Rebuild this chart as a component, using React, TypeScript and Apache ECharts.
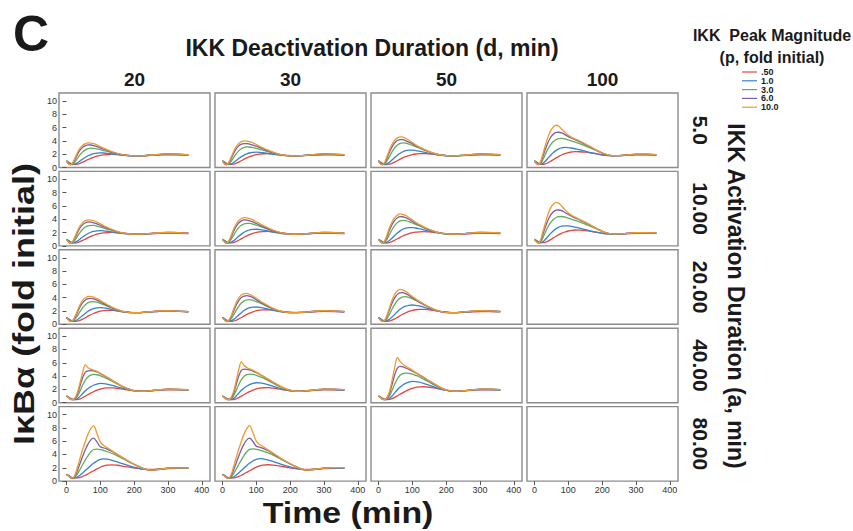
import React, { useEffect, useRef } from "react";
import * as echarts from "echarts";

// Sample times (min) shared by every simulated trajectory
const TIME = [0, 6, 12, 18, 24, 32, 40, 48, 56, 64, 72, 80, 90, 100, 110, 120, 135, 150, 170, 190, 210, 230, 250, 275, 300, 330, 360];

// IKK peak magnitude levels (legend) and panel headers
const P_LEVELS = [".50", "1.0", "3.0", "6.0", "10.0"];
const P_COLORS = ["#e3463e", "#3a80cf", "#5fae5b", "#7a5da8", "#f19a2c"];
const D_COLS = ["20", "30", "50", "100"];
const A_ROWS = ["5.0", "10.00", "20.00", "40.00", "80.00"];
const X_TICKS = [0, 100, 200, 300, 400];
const Y_TICKS = [0, 2, 4, 6, 8, 10];

// IκBα (fold initial); each panel lists p = .50, 1.0, 3.0, 6.0, 10.0
const a5_d20 = [
  [1.0, 0.82, 0.62, 0.5, 0.45, 0.5, 0.62, 0.8, 1.0, 1.2, 1.38, 1.53, 1.7, 1.82, 1.9, 1.95, 1.98, 1.96, 1.88, 1.8, 1.76, 1.77, 1.82, 1.88, 1.92, 1.9, 1.85],
  [1.0, 0.75, 0.52, 0.45, 0.5, 0.7, 0.98, 1.28, 1.55, 1.77, 1.95, 2.07, 2.17, 2.2, 2.18, 2.13, 2.03, 1.93, 1.83, 1.77, 1.76, 1.79, 1.85, 1.92, 1.96, 1.94, 1.88],
  [1.0, 0.65, 0.45, 0.5, 0.8, 1.35, 1.9, 2.35, 2.65, 2.83, 2.9, 2.88, 2.8, 2.68, 2.55, 2.43, 2.22, 2.03, 1.86, 1.77, 1.76, 1.8, 1.87, 1.95, 2.0, 1.97, 1.9],
  [1.0, 0.6, 0.42, 0.6, 1.1, 1.9, 2.6, 3.05, 3.3, 3.4, 3.38, 3.3, 3.15, 2.95, 2.75, 2.57, 2.3, 2.08, 1.88, 1.77, 1.76, 1.8, 1.88, 1.97, 2.03, 1.99, 1.91],
  [1.0, 0.55, 0.4, 0.7, 1.3, 2.2, 2.9, 3.35, 3.6, 3.7, 3.68, 3.58, 3.4, 3.15, 2.9, 2.68, 2.38, 2.12, 1.9, 1.78, 1.76, 1.8, 1.88, 1.98, 2.05, 2.0, 1.92],
];
const a5_d30 = [
  [1.0, 0.82, 0.62, 0.5, 0.45, 0.5, 0.63, 0.82, 1.03, 1.25, 1.45, 1.62, 1.8, 1.93, 2.02, 2.07, 2.08, 2.03, 1.93, 1.83, 1.77, 1.77, 1.81, 1.87, 1.91, 1.9, 1.85],
  [1.0, 0.75, 0.52, 0.45, 0.5, 0.72, 1.02, 1.35, 1.63, 1.87, 2.05, 2.18, 2.27, 2.3, 2.28, 2.22, 2.1, 1.98, 1.85, 1.78, 1.75, 1.78, 1.84, 1.91, 1.96, 1.94, 1.88],
  [1.0, 0.65, 0.45, 0.5, 0.82, 1.4, 2.0, 2.5, 2.83, 3.02, 3.1, 3.08, 3.0, 2.88, 2.74, 2.6, 2.37, 2.15, 1.92, 1.79, 1.75, 1.78, 1.85, 1.94, 2.0, 1.97, 1.9],
  [1.0, 0.6, 0.42, 0.6, 1.15, 2.0, 2.75, 3.25, 3.52, 3.6, 3.6, 3.52, 3.38, 3.2, 3.0, 2.8, 2.5, 2.23, 1.95, 1.79, 1.75, 1.78, 1.86, 1.96, 2.03, 2.0, 1.92],
  [1.0, 0.55, 0.4, 0.7, 1.35, 2.3, 3.1, 3.6, 3.9, 4.0, 3.98, 3.88, 3.7, 3.45, 3.2, 2.95, 2.6, 2.3, 1.98, 1.8, 1.75, 1.78, 1.86, 1.97, 2.05, 2.01, 1.93],
];
const a5_d50 = [
  [1.0, 0.82, 0.62, 0.5, 0.45, 0.5, 0.63, 0.82, 1.03, 1.25, 1.45, 1.62, 1.8, 1.94, 2.03, 2.08, 2.1, 2.05, 1.95, 1.84, 1.77, 1.76, 1.8, 1.86, 1.91, 1.9, 1.86],
  [1.0, 0.75, 0.52, 0.45, 0.52, 0.78, 1.12, 1.5, 1.85, 2.15, 2.37, 2.52, 2.6, 2.6, 2.55, 2.46, 2.3, 2.14, 1.95, 1.82, 1.76, 1.76, 1.82, 1.9, 1.96, 1.95, 1.89],
  [1.0, 0.65, 0.45, 0.52, 0.9, 1.6, 2.35, 2.95, 3.38, 3.62, 3.7, 3.66, 3.52, 3.33, 3.13, 2.93, 2.62, 2.33, 2.02, 1.84, 1.76, 1.76, 1.83, 1.93, 2.0, 1.98, 1.91],
  [1.0, 0.6, 0.42, 0.62, 1.25, 2.25, 3.1, 3.7, 4.05, 4.2, 4.18, 4.05, 3.82, 3.55, 3.27, 3.02, 2.68, 2.37, 2.04, 1.84, 1.76, 1.76, 1.84, 1.95, 2.03, 2.0, 1.93],
  [1.0, 0.55, 0.4, 0.75, 1.5, 2.6, 3.5, 4.1, 4.45, 4.6, 4.55, 4.4, 4.1, 3.75, 3.4, 3.1, 2.72, 2.4, 2.06, 1.85, 1.76, 1.76, 1.84, 1.96, 2.05, 2.02, 1.94],
];
const a5_d100 = [
  [1.0, 0.82, 0.63, 0.5, 0.47, 0.55, 0.72, 0.95, 1.2, 1.45, 1.68, 1.88, 2.08, 2.23, 2.33, 2.38, 2.37, 2.3, 2.15, 1.98, 1.84, 1.77, 1.78, 1.84, 1.9, 1.91, 1.88],
  [1.0, 0.75, 0.53, 0.47, 0.6, 0.95, 1.4, 1.85, 2.25, 2.57, 2.8, 2.95, 3.02, 3.0, 2.93, 2.82, 2.65, 2.45, 2.2, 1.98, 1.82, 1.76, 1.78, 1.86, 1.93, 1.94, 1.9],
  [1.0, 0.65, 0.47, 0.6, 1.1, 1.95, 2.8, 3.45, 3.9, 4.2, 4.35, 4.37, 4.3, 4.15, 3.98, 3.8, 3.55, 3.25, 2.85, 2.38, 1.97, 1.79, 1.79, 1.88, 1.97, 1.97, 1.92],
  [1.0, 0.6, 0.45, 0.75, 1.55, 2.7, 3.75, 4.55, 5.05, 5.28, 5.3, 5.2, 4.95, 4.65, 4.4, 4.17, 3.85, 3.48, 2.97, 2.43, 1.99, 1.8, 1.8, 1.9, 1.99, 1.99, 1.94],
  [1.0, 0.55, 0.45, 0.9, 1.9, 3.3, 4.6, 5.55, 6.1, 6.35, 6.2, 5.8, 5.3, 4.85, 4.55, 4.3, 3.95, 3.55, 3.0, 2.45, 2.0, 1.8, 1.8, 1.9, 2.0, 2.0, 1.95],
];
const a10_d20 = [
  [1.0, 0.83, 0.63, 0.5, 0.45, 0.5, 0.63, 0.82, 1.03, 1.24, 1.43, 1.58, 1.76, 1.88, 1.96, 2.01, 2.04, 2.0, 1.91, 1.82, 1.76, 1.77, 1.82, 1.88, 1.92, 1.9, 1.85],
  [1.0, 0.76, 0.53, 0.45, 0.5, 0.72, 1.02, 1.35, 1.63, 1.87, 2.05, 2.17, 2.26, 2.3, 2.27, 2.2, 2.08, 1.96, 1.84, 1.77, 1.76, 1.79, 1.85, 1.92, 1.96, 1.94, 1.88],
  [1.0, 0.66, 0.45, 0.5, 0.8, 1.4, 2.0, 2.5, 2.83, 3.02, 3.1, 3.07, 2.98, 2.84, 2.69, 2.54, 2.3, 2.08, 1.88, 1.78, 1.76, 1.8, 1.87, 1.95, 2.0, 1.97, 1.9],
  [1.0, 0.62, 0.42, 0.58, 1.08, 1.95, 2.7, 3.2, 3.48, 3.6, 3.58, 3.48, 3.32, 3.1, 2.88, 2.68, 2.38, 2.12, 1.9, 1.78, 1.76, 1.8, 1.88, 1.97, 2.03, 1.99, 1.91],
  [1.0, 0.6, 0.4, 0.65, 1.25, 2.2, 3.0, 3.5, 3.8, 3.9, 3.88, 3.78, 3.58, 3.32, 3.05, 2.8, 2.47, 2.18, 1.93, 1.79, 1.76, 1.8, 1.88, 1.98, 2.05, 2.0, 1.92],
];
const a10_d30 = [
  [1.0, 0.83, 0.63, 0.5, 0.45, 0.51, 0.65, 0.85, 1.07, 1.3, 1.51, 1.69, 1.88, 2.02, 2.1, 2.15, 2.17, 2.11, 1.99, 1.86, 1.78, 1.77, 1.81, 1.87, 1.91, 1.9, 1.86],
  [1.0, 0.76, 0.53, 0.45, 0.52, 0.76, 1.08, 1.44, 1.77, 2.05, 2.26, 2.4, 2.48, 2.5, 2.46, 2.38, 2.23, 2.07, 1.9, 1.79, 1.75, 1.77, 1.83, 1.91, 1.96, 1.94, 1.88],
  [1.0, 0.66, 0.45, 0.52, 0.86, 1.5, 2.2, 2.75, 3.1, 3.32, 3.4, 3.38, 3.28, 3.12, 2.95, 2.78, 2.5, 2.24, 1.96, 1.8, 1.75, 1.78, 1.85, 1.94, 2.0, 1.97, 1.9],
  [1.0, 0.62, 0.42, 0.6, 1.15, 2.1, 2.9, 3.45, 3.77, 3.9, 3.88, 3.78, 3.6, 3.37, 3.13, 2.9, 2.57, 2.28, 1.98, 1.8, 1.75, 1.78, 1.86, 1.96, 2.03, 2.0, 1.92],
  [1.0, 0.6, 0.4, 0.68, 1.35, 2.4, 3.25, 3.8, 4.12, 4.25, 4.22, 4.1, 3.9, 3.63, 3.35, 3.08, 2.7, 2.37, 2.02, 1.82, 1.75, 1.78, 1.86, 1.97, 2.05, 2.01, 1.93],
];
const a10_d50 = [
  [1.0, 0.83, 0.63, 0.5, 0.45, 0.51, 0.65, 0.85, 1.07, 1.29, 1.49, 1.66, 1.85, 1.98, 2.07, 2.12, 2.15, 2.1, 1.99, 1.87, 1.79, 1.77, 1.8, 1.86, 1.91, 1.9, 1.86],
  [1.0, 0.76, 0.53, 0.46, 0.54, 0.8, 1.16, 1.56, 1.94, 2.26, 2.5, 2.66, 2.75, 2.75, 2.69, 2.59, 2.42, 2.24, 2.02, 1.86, 1.77, 1.76, 1.82, 1.9, 1.96, 1.95, 1.89],
  [1.0, 0.66, 0.46, 0.53, 0.92, 1.65, 2.43, 3.05, 3.5, 3.76, 3.85, 3.81, 3.66, 3.46, 3.25, 3.03, 2.7, 2.39, 2.06, 1.86, 1.77, 1.76, 1.83, 1.93, 2.0, 1.98, 1.91],
  [1.0, 0.62, 0.43, 0.62, 1.27, 2.3, 3.2, 3.83, 4.22, 4.4, 4.38, 4.24, 4.0, 3.7, 3.4, 3.13, 2.77, 2.45, 2.09, 1.87, 1.77, 1.76, 1.84, 1.95, 2.03, 2.0, 1.93],
  [1.0, 0.6, 0.42, 0.72, 1.5, 2.65, 3.6, 4.25, 4.63, 4.8, 4.75, 4.58, 4.28, 3.92, 3.56, 3.24, 2.84, 2.5, 2.12, 1.88, 1.77, 1.76, 1.84, 1.96, 2.05, 2.02, 1.94],
];
const a10_d100 = [
  [1.0, 0.83, 0.64, 0.51, 0.48, 0.56, 0.73, 0.96, 1.21, 1.46, 1.69, 1.89, 2.09, 2.24, 2.34, 2.39, 2.38, 2.31, 2.16, 1.99, 1.85, 1.78, 1.78, 1.84, 1.9, 1.91, 1.88],
  [1.0, 0.76, 0.54, 0.47, 0.6, 0.96, 1.42, 1.88, 2.28, 2.6, 2.82, 2.96, 3.02, 3.0, 2.93, 2.82, 2.65, 2.45, 2.2, 1.98, 1.82, 1.76, 1.78, 1.86, 1.93, 1.94, 1.9],
  [1.0, 0.66, 0.47, 0.6, 1.13, 2.0, 2.87, 3.53, 3.98, 4.27, 4.4, 4.42, 4.34, 4.18, 4.0, 3.82, 3.57, 3.27, 2.87, 2.4, 1.98, 1.79, 1.79, 1.88, 1.97, 1.97, 1.92],
  [1.0, 0.62, 0.45, 0.75, 1.6, 2.8, 3.85, 4.65, 5.15, 5.38, 5.4, 5.3, 5.03, 4.72, 4.45, 4.2, 3.88, 3.5, 2.99, 2.45, 2.0, 1.8, 1.8, 1.9, 1.99, 1.99, 1.94],
  [1.0, 0.58, 0.45, 0.9, 1.95, 3.4, 4.75, 5.75, 6.3, 6.55, 6.4, 6.0, 5.45, 4.95, 4.6, 4.33, 3.97, 3.57, 3.02, 2.47, 2.01, 1.8, 1.8, 1.9, 2.0, 2.0, 1.95],
];
const a20_d20 = [
  [1.0, 0.84, 0.65, 0.52, 0.46, 0.48, 0.6, 0.78, 1.0, 1.23, 1.44, 1.62, 1.82, 1.97, 2.06, 2.1, 2.1, 2.02, 1.89, 1.8, 1.76, 1.79, 1.86, 1.93, 1.96, 1.93, 1.87],
  [1.0, 0.78, 0.55, 0.46, 0.5, 0.68, 0.98, 1.33, 1.67, 1.97, 2.2, 2.36, 2.47, 2.5, 2.46, 2.38, 2.21, 2.03, 1.85, 1.77, 1.76, 1.8, 1.88, 1.96, 1.99, 1.95, 1.89],
  [1.0, 0.7, 0.47, 0.46, 0.7, 1.25, 1.9, 2.5, 2.95, 3.25, 3.38, 3.4, 3.32, 3.15, 2.95, 2.74, 2.42, 2.13, 1.87, 1.77, 1.76, 1.81, 1.9, 1.99, 2.02, 1.97, 1.9],
  [1.0, 0.67, 0.44, 0.5, 0.92, 1.75, 2.6, 3.25, 3.66, 3.86, 3.9, 3.83, 3.64, 3.38, 3.1, 2.85, 2.49, 2.17, 1.88, 1.77, 1.76, 1.82, 1.91, 2.01, 2.03, 1.98, 1.91],
  [1.0, 0.65, 0.42, 0.55, 1.05, 2.0, 2.95, 3.6, 4.0, 4.18, 4.2, 4.1, 3.88, 3.58, 3.27, 2.98, 2.58, 2.23, 1.9, 1.77, 1.76, 1.82, 1.92, 2.02, 2.04, 1.98, 1.92],
];
const a20_d30 = [
  [1.0, 0.84, 0.65, 0.52, 0.46, 0.49, 0.61, 0.8, 1.02, 1.26, 1.48, 1.67, 1.88, 2.04, 2.13, 2.18, 2.19, 2.12, 1.98, 1.85, 1.78, 1.77, 1.81, 1.88, 1.93, 1.92, 1.87],
  [1.0, 0.78, 0.55, 0.46, 0.51, 0.7, 1.02, 1.39, 1.75, 2.07, 2.32, 2.49, 2.59, 2.6, 2.55, 2.46, 2.29, 2.11, 1.9, 1.78, 1.75, 1.78, 1.85, 1.94, 1.98, 1.95, 1.89],
  [1.0, 0.7, 0.47, 0.47, 0.73, 1.33, 2.05, 2.7, 3.2, 3.53, 3.68, 3.7, 3.6, 3.42, 3.2, 2.98, 2.62, 2.3, 1.95, 1.79, 1.75, 1.78, 1.87, 1.97, 2.02, 1.98, 1.91],
  [1.0, 0.67, 0.44, 0.52, 0.97, 1.88, 2.82, 3.55, 4.02, 4.25, 4.3, 4.22, 4.0, 3.7, 3.39, 3.1, 2.7, 2.34, 1.98, 1.79, 1.75, 1.79, 1.88, 1.98, 2.04, 1.99, 1.92],
  [1.0, 0.65, 0.42, 0.57, 1.1, 2.15, 3.2, 3.95, 4.4, 4.62, 4.65, 4.52, 4.26, 3.92, 3.57, 3.24, 2.8, 2.41, 2.0, 1.8, 1.75, 1.79, 1.88, 1.99, 2.05, 2.0, 1.93],
];
const a20_d50 = [
  [1.0, 0.84, 0.65, 0.52, 0.46, 0.49, 0.62, 0.81, 1.04, 1.28, 1.51, 1.71, 1.93, 2.09, 2.19, 2.24, 2.25, 2.18, 2.03, 1.89, 1.8, 1.77, 1.8, 1.86, 1.92, 1.92, 1.88],
  [1.0, 0.78, 0.55, 0.46, 0.52, 0.74, 1.09, 1.5, 1.9, 2.25, 2.53, 2.72, 2.86, 2.9, 2.86, 2.76, 2.56, 2.34, 2.06, 1.86, 1.77, 1.76, 1.82, 1.91, 1.97, 1.96, 1.9],
  [1.0, 0.7, 0.47, 0.48, 0.78, 1.45, 2.27, 3.0, 3.57, 3.93, 4.12, 4.15, 4.05, 3.84, 3.6, 3.36, 2.98, 2.6, 2.16, 1.87, 1.76, 1.76, 1.84, 1.95, 2.02, 2.0, 1.92],
  [1.0, 0.66, 0.44, 0.54, 1.05, 2.08, 3.15, 3.97, 4.5, 4.72, 4.75, 4.6, 4.33, 3.99, 3.65, 3.34, 2.92, 2.53, 2.1, 1.85, 1.76, 1.77, 1.85, 1.97, 2.04, 2.01, 1.93],
  [1.0, 0.64, 0.42, 0.6, 1.2, 2.4, 3.6, 4.5, 5.05, 5.25, 5.18, 4.95, 4.6, 4.2, 3.82, 3.48, 3.02, 2.6, 2.14, 1.86, 1.76, 1.77, 1.86, 1.98, 2.05, 2.02, 1.94],
];
const a40_d20 = [
  [1.0, 0.86, 0.66, 0.53, 0.47, 0.48, 0.58, 0.76, 0.98, 1.22, 1.45, 1.65, 1.88, 2.05, 2.17, 2.24, 2.24, 2.15, 2.0, 1.86, 1.76, 1.74, 1.8, 1.88, 1.93, 1.93, 1.89],
  [1.0, 0.83, 0.6, 0.48, 0.47, 0.6, 0.95, 1.38, 1.8, 2.15, 2.42, 2.62, 2.8, 2.9, 2.88, 2.8, 2.6, 2.38, 2.1, 1.88, 1.74, 1.72, 1.8, 1.91, 1.99, 1.98, 1.92],
  [1.0, 0.8, 0.55, 0.46, 0.52, 0.95, 1.75, 2.65, 3.4, 3.9, 4.15, 4.25, 4.2, 4.05, 3.85, 3.62, 3.22, 2.82, 2.31, 1.94, 1.73, 1.72, 1.81, 1.94, 2.03, 2.0, 1.93],
  [1.0, 0.77, 0.52, 0.45, 0.58, 1.25, 2.5, 3.8, 4.6, 4.8, 4.82, 4.78, 4.62, 4.38, 4.1, 3.8, 3.35, 2.9, 2.35, 1.95, 1.73, 1.72, 1.82, 1.95, 2.04, 2.01, 1.94],
  [1.0, 0.75, 0.5, 0.45, 0.65, 1.5, 3.0, 4.6, 5.7, 5.25, 5.05, 4.9, 4.7, 4.42, 4.12, 3.82, 3.36, 2.9, 2.35, 1.95, 1.73, 1.72, 1.82, 1.95, 2.05, 2.02, 1.95],
];
const a40_d30 = [
  [1.0, 0.86, 0.66, 0.53, 0.47, 0.48, 0.58, 0.77, 0.99, 1.23, 1.46, 1.66, 1.89, 2.06, 2.18, 2.25, 2.26, 2.18, 2.03, 1.88, 1.77, 1.74, 1.79, 1.87, 1.93, 1.93, 1.89],
  [1.0, 0.83, 0.6, 0.48, 0.47, 0.61, 0.97, 1.42, 1.86, 2.22, 2.51, 2.73, 2.92, 3.0, 2.98, 2.9, 2.7, 2.47, 2.16, 1.91, 1.75, 1.72, 1.79, 1.9, 1.99, 1.98, 1.92],
  [1.0, 0.8, 0.55, 0.46, 0.52, 0.96, 1.78, 2.7, 3.48, 3.98, 4.22, 4.3, 4.26, 4.12, 3.93, 3.72, 3.32, 2.92, 2.4, 1.99, 1.75, 1.72, 1.8, 1.93, 2.03, 2.01, 1.94],
  [1.0, 0.77, 0.52, 0.45, 0.59, 1.28, 2.6, 4.0, 4.85, 5.05, 5.02, 4.92, 4.75, 4.52, 4.24, 3.95, 3.5, 3.05, 2.48, 2.02, 1.76, 1.72, 1.8, 1.94, 2.04, 2.02, 1.95],
  [1.0, 0.75, 0.5, 0.45, 0.66, 1.55, 3.15, 4.95, 6.15, 5.6, 5.3, 5.1, 4.88, 4.6, 4.3, 4.0, 3.55, 3.08, 2.5, 2.03, 1.76, 1.72, 1.8, 1.94, 2.05, 2.03, 1.96],
];
const a40_d50 = [
  [1.0, 0.86, 0.66, 0.53, 0.47, 0.49, 0.6, 0.8, 1.03, 1.28, 1.52, 1.74, 1.98, 2.17, 2.3, 2.38, 2.4, 2.32, 2.15, 1.96, 1.81, 1.75, 1.78, 1.86, 1.93, 1.94, 1.9],
  [1.0, 0.83, 0.6, 0.48, 0.47, 0.62, 1.0, 1.48, 1.95, 2.35, 2.67, 2.9, 3.1, 3.2, 3.18, 3.09, 2.88, 2.62, 2.27, 1.96, 1.77, 1.72, 1.78, 1.89, 1.98, 1.98, 1.93],
  [1.0, 0.8, 0.55, 0.46, 0.53, 0.98, 1.82, 2.78, 3.6, 4.12, 4.38, 4.45, 4.42, 4.28, 4.1, 3.9, 3.5, 3.08, 2.53, 2.06, 1.78, 1.72, 1.79, 1.91, 2.02, 2.02, 1.95],
  [1.0, 0.77, 0.52, 0.45, 0.6, 1.32, 2.7, 4.2, 5.2, 5.45, 5.38, 5.22, 5.0, 4.75, 4.47, 4.18, 3.72, 3.26, 2.65, 2.11, 1.79, 1.72, 1.79, 1.92, 2.03, 2.03, 1.96],
  [1.0, 0.75, 0.5, 0.45, 0.68, 1.6, 3.3, 5.3, 6.8, 6.2, 5.8, 5.5, 5.2, 4.88, 4.55, 4.25, 3.78, 3.3, 2.68, 2.13, 1.8, 1.72, 1.79, 1.92, 2.04, 2.04, 1.97],
];
const a80_d20 = [
  [1.0, 0.86, 0.66, 0.53, 0.47, 0.47, 0.55, 0.7, 0.88, 1.1, 1.33, 1.55, 1.83, 2.08, 2.28, 2.4, 2.45, 2.38, 2.22, 2.05, 1.9, 1.8, 1.77, 1.82, 1.89, 1.91, 1.9],
  [1.0, 0.83, 0.6, 0.48, 0.47, 0.6, 0.88, 1.22, 1.6, 1.98, 2.35, 2.67, 3.0, 3.25, 3.35, 3.3, 3.12, 2.88, 2.55, 2.22, 1.95, 1.77, 1.7, 1.8, 1.92, 1.95, 1.93],
  [1.0, 0.8, 0.55, 0.46, 0.55, 1.05, 1.75, 2.5, 3.2, 3.85, 4.4, 4.75, 4.8, 4.72, 4.6, 4.45, 4.15, 3.8, 3.28, 2.75, 2.26, 1.85, 1.65, 1.78, 1.94, 1.98, 1.98],
  [1.0, 0.77, 0.52, 0.45, 0.65, 1.55, 2.65, 3.75, 4.75, 5.6, 6.2, 6.45, 5.9, 5.15, 5.0, 4.82, 4.45, 4.0, 3.38, 2.8, 2.28, 1.85, 1.65, 1.78, 1.95, 2.0, 2.0],
  [1.0, 0.75, 0.5, 0.45, 0.8, 2.0, 3.4, 4.8, 6.0, 7.1, 7.9, 8.3, 7.2, 5.85, 5.35, 5.05, 4.55, 4.05, 3.4, 2.8, 2.28, 1.85, 1.65, 1.78, 1.95, 2.0, 2.0],
];
const a80_d30 = [
  [1.0, 0.86, 0.66, 0.53, 0.47, 0.47, 0.55, 0.7, 0.88, 1.1, 1.33, 1.55, 1.84, 2.09, 2.29, 2.41, 2.46, 2.4, 2.25, 2.08, 1.92, 1.81, 1.77, 1.82, 1.89, 1.91, 1.9],
  [1.0, 0.83, 0.6, 0.48, 0.47, 0.6, 0.88, 1.22, 1.6, 1.98, 2.36, 2.68, 3.02, 3.28, 3.38, 3.34, 3.17, 2.94, 2.6, 2.27, 1.98, 1.78, 1.7, 1.8, 1.92, 1.96, 1.94],
  [1.0, 0.8, 0.55, 0.46, 0.55, 1.05, 1.75, 2.5, 3.2, 3.87, 4.42, 4.78, 4.85, 4.78, 4.67, 4.52, 4.24, 3.9, 3.37, 2.83, 2.32, 1.87, 1.66, 1.78, 1.94, 1.99, 1.99],
  [1.0, 0.77, 0.52, 0.45, 0.65, 1.55, 2.65, 3.75, 4.75, 5.6, 6.2, 6.45, 5.95, 5.25, 5.1, 4.92, 4.56, 4.1, 3.48, 2.88, 2.34, 1.88, 1.66, 1.78, 1.95, 2.01, 2.01],
  [1.0, 0.75, 0.5, 0.45, 0.8, 2.0, 3.4, 4.8, 6.0, 7.1, 7.9, 8.35, 7.3, 6.0, 5.5, 5.2, 4.7, 4.2, 3.52, 2.9, 2.35, 1.88, 1.66, 1.78, 1.96, 2.02, 2.02],
];

// Panel matrix: rows = activation duration, columns = deactivation duration (null = not simulated)
const PANELS = [
  [a5_d20, a5_d30, a5_d50, a5_d100],
  [a10_d20, a10_d30, a10_d50, a10_d100],
  [a20_d20, a20_d30, a20_d50, null],
  [a40_d20, a40_d30, a40_d50, null],
  [a80_d20, a80_d30, null, null],
];

const COL_LEFT = [59, 215, 371, 527];
const ROW_TOP = [93, 171.4, 249.8, 328.2, 406.6];
const PANEL_W = 151;
const PANEL_H = 74.5;
const FONT = "'Liberation Sans', Arial, Helvetica, sans-serif";

function buildOption() {
  const grid: any[] = [];
  const xAxis: any[] = [];
  const yAxis: any[] = [];
  const series: any[] = [];
  let gi = 0;
  PANELS.forEach((row, r) => {
    row.forEach((panel, c) => {
      grid.push({
        left: COL_LEFT[c],
        top: ROW_TOP[r],
        width: PANEL_W,
        height: PANEL_H,
        show: true,
        borderColor: "#8c8c8c",
        borderWidth: 1.4,
        backgroundColor: "#ffffff",
      });
      const bottom = r === PANELS.length - 1;
      xAxis.push({
        gridIndex: gi,
        type: "value",
        min: -22,
        max: 424,
        axisLine: { show: false },
        splitLine: { show: false },
        axisTick: { show: bottom, length: 4, customValues: X_TICKS, lineStyle: { color: "#555", width: 1 } },
        axisLabel: { show: bottom, customValues: X_TICKS, fontSize: 9, color: "#333", margin: 4, fontFamily: FONT },
      });
      const left = c === 0;
      yAxis.push({
        gridIndex: gi,
        type: "value",
        min: 0,
        max: 11.2,
        axisLine: { show: false },
        splitLine: { show: false },
        axisTick: { show: left, length: 4, customValues: Y_TICKS, lineStyle: { color: "#555", width: 1 } },
        axisLabel: { show: left, customValues: Y_TICKS, fontSize: 9, color: "#333", margin: 2, fontFamily: FONT },
      });
      if (panel) {
        panel.forEach((vals, k) => {
          series.push({
            type: "line",
            name: P_LEVELS[k],
            xAxisIndex: gi,
            yAxisIndex: gi,
            data: TIME.map((t, i) => [t, vals[i]]),
            showSymbol: false,
            smooth: 0.35,
            lineStyle: { color: P_COLORS[k], width: 1.3 },
            itemStyle: { color: P_COLORS[k] },
            silent: true,
          });
        });
      }
      gi++;
    });
  });

  const bold = (size: number) => `bold ${size}px ${FONT}`;
  const text = (t: string, x: number, y: number, size: number, extra: any = {}) => ({
    type: "text",
    x,
    y,
    rotation: extra.rotation || 0,
    scaleX: extra.scaleX || 1,
    style: {
      text: t,
      x: 0,
      y: 0,
      font: bold(size),
      fill: "#1a1a1a",
      align: extra.align || "center",
      verticalAlign: "middle",
      textAlign: extra.align || "center",
      textVerticalAlign: "middle",
    },
  });

  const graphic: any[] = [];
  graphic.push(text("C", 31, 34, 50));
  graphic.push(text("IKK Deactivation Duration (d, min)", 372, 48, 23));
  D_COLS.forEach((d, c) => graphic.push(text(d, COL_LEFT[c] + PANEL_W / 2, 79, 19)));
  A_ROWS.forEach((a, r) =>
    graphic.push(text(a, 700, ROW_TOP[r] + PANEL_H / 2, 21, { rotation: -Math.PI / 2 }))
  );
  graphic.push(text("IKK Activation Duration (a, min)", 736, 296, 23, { rotation: -Math.PI / 2 }));
  graphic.push(text("IκBα (fold initial)", 24, 304, 30, { rotation: Math.PI / 2, scaleX: 1.2 }));
  graphic.push(text("Time (min)", 348, 513, 30, { scaleX: 1.13 }));
  graphic.push(text("IKK  Peak Magnitude", 772, 35, 16));
  graphic.push(text("(p, fold initial)", 772, 57, 16));
  P_LEVELS.forEach((p, k) => {
    const y = 72 + k * 8.8;
    graphic.push({
      type: "line",
      shape: { x1: 742, y1: y, x2: 757, y2: y },
      style: { stroke: P_COLORS[k], lineWidth: 1.2 },
    });
    graphic.push(text(p, 761, y, 9, { align: "left" }));
  });

  return {
    animation: false,
    backgroundColor: "#ffffff",
    grid,
    xAxis,
    yAxis,
    series,
    graphic,
  };
}

export default function App() {
  const ref = useRef<HTMLDivElement>(null);
  useEffect(() => {
    if (!ref.current) return;
    const chart = echarts.init(ref.current, undefined, { renderer: "svg" });
    chart.setOption(buildOption() as any);
    return () => chart.dispose();
  }, []);
  return (
    <div
      ref={ref}
      style={{ position: "absolute", left: 0, top: 0, width: 853, height: 531, background: "#fff" }}
    />
  );
}
